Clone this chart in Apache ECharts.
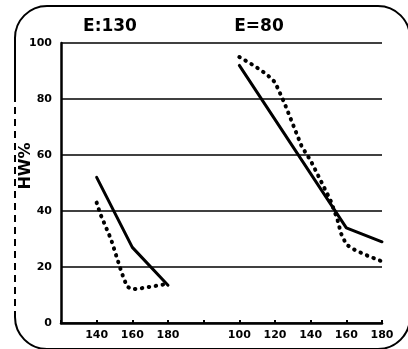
<!DOCTYPE html>
<html>
<head>
<meta charset="utf-8">
<script src="https://cdn.jsdelivr.net/npm/echarts@6/dist/echarts.min.js"></script>
<style>html,body{margin:0;padding:0;background:#fff;}#c{width:408px;height:349px;}</style>
</head>
<body>
<div id="c"></div>
<script>
// Panel titles
var panelTitles = ['E:130', 'E=80'];
var yAxisTitle = 'HW%';
// Left panel (E:130)
var leftSolidX = [140, 160, 180];
var leftSolidY = [52, 27, 13.5];
var leftDotX = [140, 142, 148, 154, 157, 160, 166, 180];
var leftDotY = [43, 39, 30, 18, 13, 12, 12.5, 14];
// Right panel (E=80)
var rightSolidX = [100, 160, 180];
var rightSolidY = [92, 34, 29];
var rightDotX = [100, 108, 115, 120, 125, 130, 135, 140, 151, 155, 157, 160, 165, 172, 180];
var rightDotY = [95, 92, 89, 86, 79, 71, 63, 58, 44, 37, 32, 28, 26, 24, 22];
// Tick labels
var leftTickLabels = [140, 160, 180];
var rightTickLabels = [100, 120, 140, 160, 180];
var yTicks = [0, 20, 40, 60, 80, 100];

function pairs(xs, ys) { return xs.map(function (x, i) { return [x, ys[i]]; }); }

var FONT = 'DejaVu Sans';
var labelStyle = { color: '#000', fontFamily: FONT, fontWeight: 'bold', fontSize: 11 };
var solidStyle = { color: '#000', width: 3, join: 'round', cap: 'round' };
var dotStyle = { color: '#000', width: 4, type: [0.5, 6.5], cap: 'round', join: 'round' };

var chart = echarts.init(document.getElementById('c'), null, { renderer: 'canvas' });
chart.setOption({
  backgroundColor: '#fff',
  animation: false,
  grid: { left: 61, right: 26, top: 43, bottom: 26 },
  xAxis: [
    { type: 'value', min: 120, max: 300, interval: 20, position: 'bottom',
      axisLine: { show: false }, axisTick: { show: false }, splitLine: { show: false },
      axisLabel: Object.assign({ margin: 7, formatter: function (v) { return leftTickLabels.indexOf(v) >= 0 ? String(v) : ''; } }, labelStyle) },
    { type: 'value', min: 0, max: 180, interval: 20, position: 'bottom',
      axisLine: { show: true, lineStyle: { color: '#000', width: 2.5 } },
      axisTick: { show: true, inside: true, length: 3, lineStyle: { color: '#000', width: 2 } },
      splitLine: { show: false },
      axisLabel: Object.assign({ margin: 7, formatter: function (v) { return rightTickLabels.indexOf(v) >= 0 ? String(v) : ''; } }, labelStyle) }
  ],
  yAxis: {
    type: 'value', min: 0, max: 100, interval: 20,
    axisLine: { show: true, lineStyle: { color: '#000', width: 2.5 } },
    axisTick: { show: false },
    splitLine: { show: true, lineStyle: { color: '#000', width: 1.5 } },
    axisLabel: Object.assign({ margin: 9, formatter: function (v) { return yTicks.indexOf(v) >= 0 ? String(v) : ''; } }, labelStyle)
  },
  graphic: [
    { type: 'rect', shape: { x: 15, y: 6, width: 395, height: 343, r: 32 }, style: { fill: 'none', stroke: '#000', lineWidth: 2 }, z: 1 },
    { type: 'line', shape: { x1: 15, y1: 95, x2: 15, y2: 312 }, style: { stroke: '#fff', lineWidth: 4 }, z: 2 },
    { type: 'line', shape: { x1: 15, y1: 95, x2: 15, y2: 312 }, style: { stroke: '#000', lineWidth: 2, lineDash: [7, 5] }, z: 3 },
    { type: 'text', x: 110, y: 27, style: { text: panelTitles[0], fill: '#000', font: 'bold 17px "DejaVu Sans"', textAlign: 'center', textVerticalAlign: 'middle' }, z: 5 },
    { type: 'text', x: 259, y: 27, style: { text: panelTitles[1], fill: '#000', font: 'bold 17px "DejaVu Sans"', textAlign: 'center', textVerticalAlign: 'middle' }, z: 5 },
    { type: 'text', x: 26, y: 166, rotation: Math.PI / 2, style: { text: yAxisTitle, fill: '#000', font: 'bold 16px "DejaVu Sans"', textAlign: 'center', textVerticalAlign: 'middle' }, z: 5 }
  ],
  series: [
    { type: 'line', xAxisIndex: 0, data: pairs(leftSolidX, leftSolidY), showSymbol: false, lineStyle: solidStyle, z: 4 },
    { type: 'line', xAxisIndex: 0, data: pairs(leftDotX, leftDotY), showSymbol: false, lineStyle: dotStyle, z: 4 },
    { type: 'line', xAxisIndex: 1, data: pairs(rightSolidX, rightSolidY), showSymbol: false, lineStyle: solidStyle, z: 4 },
    { type: 'line', xAxisIndex: 1, data: pairs(rightDotX, rightDotY), showSymbol: false, lineStyle: dotStyle, z: 4 }
  ]
});
</script>
</body>
</html>
